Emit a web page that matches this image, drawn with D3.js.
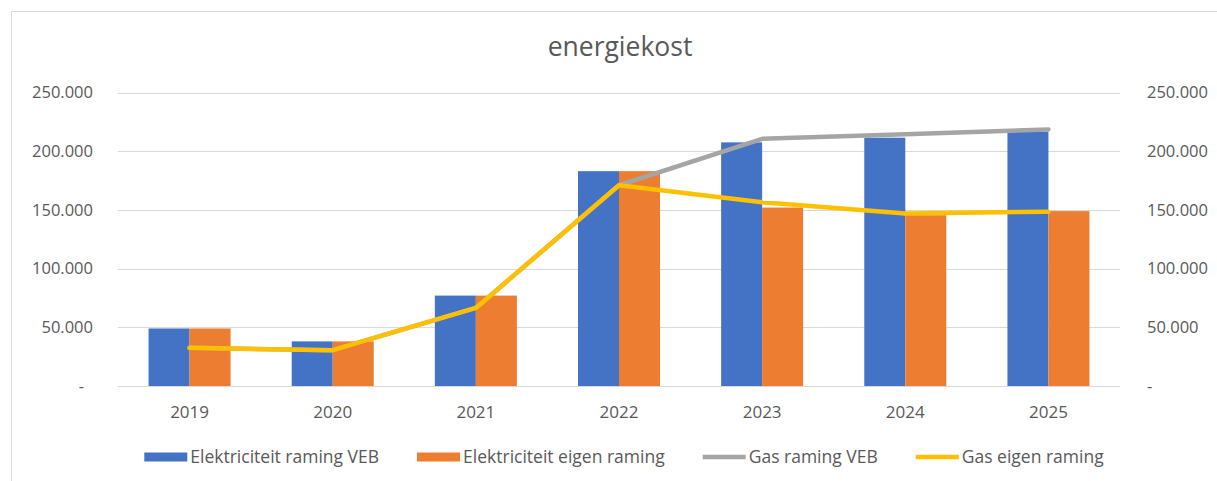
<!DOCTYPE html>
<html>
<head>
<meta charset="utf-8">
<script src="https://cdn.jsdelivr.net/npm/d3@7"></script>
<style>
  body { margin: 0; background: #fff; }
  text { font-family: "Open Sans", sans-serif; fill: #595959; }
</style>
</head>
<body>
<div id="container"></div>
<script>
// Data
const years = ["2019", "2020", "2021", "2022", "2023", "2024", "2025"];
const elekVEB   = [49000, 38000, 77000, 183000, 207500, 211500, 216500];
const elekEigen = [49000, 38000, 77000, 183000, 152000, 145500, 149000];
const gasVEB    = [32500, 30500, 66500, 171000, 210500, 214500, 218500];
const gasEigen  = [32500, 30500, 66500, 171000, 156500, 147000, 148500];
const yTicks = [0, 50000, 100000, 150000, 200000, 250000];
const seriesNames = ["Elektriciteit raming VEB", "Elektriciteit eigen raming", "Gas raming VEB", "Gas eigen raming"];
const colors = ["#4472C4", "#ED7D31", "#A5A5A5", "#FFC000"];

const W = 1217, H = 481;
const plot = { left: 118, right: 1120, top: 92.5, bottom: 386 };

const svg = d3.select("#container").append("svg")
    .attr("width", W)
    .attr("height", H);

// chart frame (only top and left edge visible)
svg.append("path")
    .attr("d", `M11.5,${H} V11.5 H${W}`)
    .attr("fill", "none")
    .attr("stroke", "#D9D9D9")
    .attr("stroke-width", 1);

// Title
svg.append("text")
    .attr("x", 620)
    .attr("y", 56)
    .attr("text-anchor", "middle")
    .style("font-size", "26.5px")
    .text("energiekost");

// Scales
const x = d3.scaleBand()
    .domain(years)
    .range([plot.left, plot.right]);

const y = d3.scaleLinear()
    .domain([0, 250000])
    .range([plot.bottom, plot.top]);

const fmt = v => v === 0 ? "-" : d3.format(",")(v).replace(/,/g, ".");

// Gridlines
svg.append("g").selectAll("line")
    .data(yTicks)
    .enter().append("line")
    .attr("x1", plot.left)
    .attr("x2", plot.right)
    .attr("y1", d => Math.round(y(d)) + 0.5)
    .attr("y2", d => Math.round(y(d)) + 0.5)
    .attr("stroke", "#D9D9D9")
    .attr("stroke-width", 1);

// Left axis labels
svg.append("g").selectAll("text")
    .data(yTicks)
    .enter().append("text")
    .attr("x", d => d === 0 ? 84 : 93)
    .attr("y", d => y(d))
    .attr("dy", "0.35em")
    .attr("text-anchor", "end")
    .style("font-size", "16.5px")
    .text(fmt);

// Right axis labels
svg.append("g").selectAll("text")
    .data(yTicks)
    .enter().append("text")
    .attr("x", 1147)
    .attr("y", d => y(d))
    .attr("dy", "0.35em")
    .attr("text-anchor", "start")
    .style("font-size", "16.5px")
    .text(fmt);

// Category labels
svg.append("g").selectAll("text")
    .data(years)
    .enter().append("text")
    .attr("x", d => x(d) + x.bandwidth() / 2)
    .attr("y", 412)
    .attr("dy", "0.35em")
    .attr("text-anchor", "middle")
    .style("font-size", "17px")
    .text(d => d);

// Bars
const barW = 41;
const inner = d3.scaleBand()
    .domain([0, 1])
    .range([x.bandwidth() / 2 - barW, x.bandwidth() / 2 + barW]);

[elekVEB, elekEigen].forEach((vals, i) => {
    svg.append("g").selectAll("rect")
        .data(years.map((yr, j) => ({ yr, v: vals[j] })))
        .enter().append("rect")
        .attr("x", d => x(d.yr) + inner(i))
        .attr("y", d => y(d.v))
        .attr("width", inner.bandwidth())
        .attr("height", d => y(0) - y(d.v))
        .attr("fill", colors[i]);
});

// Lines
const line = d3.line()
    .x(d => x(d.yr) + x.bandwidth() / 2)
    .y(d => y(d.v));

[gasVEB, gasEigen].forEach((vals, i) => {
    svg.append("path")
        .datum(years.map((yr, j) => ({ yr, v: vals[j] })))
        .attr("d", line)
        .attr("fill", "none")
        .attr("stroke", colors[i + 2])
        .attr("stroke-width", 4.5)
        .attr("stroke-linejoin", "round")
        .attr("stroke-linecap", "round");
});

// Legend
const legend = svg.append("g");
const patchW = 43, gapText = 3, gapItem = 38, legY = 457;
const items = seriesNames.map((name, i) => {
    const g = legend.append("g");
    if (i < 2) {
        g.append("rect")
            .attr("x", 0).attr("y", legY - 4.5)
            .attr("width", patchW).attr("height", 9)
            .attr("fill", colors[i]);
    } else {
        g.append("line")
            .attr("x1", 0).attr("x2", patchW)
            .attr("y1", legY).attr("y2", legY)
            .attr("stroke", colors[i])
            .attr("stroke-width", 4.5);
    }
    const t = g.append("text")
        .attr("x", patchW + gapText)
        .attr("y", legY)
        .attr("dy", "0.35em")
        .style("font-size", "17.5px")
        .text(name);
    return { g, w: patchW + gapText + t.node().getComputedTextLength() };
});
const total = d3.sum(items, d => d.w) + gapItem * (items.length - 1);
let cx = 624 - total / 2;
items.forEach(it => {
    it.g.attr("transform", `translate(${cx},0)`);
    cx += it.w + gapItem;
});
</script>
</body>
</html>
